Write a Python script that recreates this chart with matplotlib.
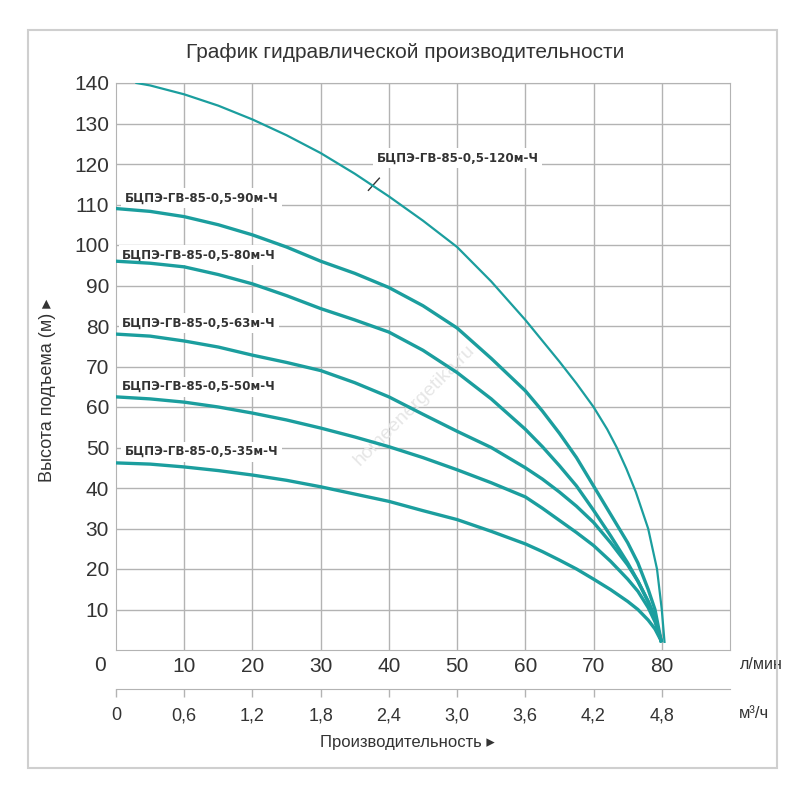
import matplotlib
matplotlib.use("Agg")
import matplotlib.pyplot as plt
from matplotlib.patches import Rectangle

plt.rcParams['font.family'] = ['Liberation Sans', 'DejaVu Sans']

# flow, l/min  ->  head, m
x_std = [0, 5, 10, 15, 20, 25, 30, 35, 40, 45, 50, 55, 60, 62.5, 65, 67.5, 70, 72.5, 75, 76.5, 78, 79, 79.9]
h35 = [46.2, 45.9, 45.2, 44.3, 43.2, 41.9, 40.3, 38.5, 36.7, 34.4, 32.2, 29.3, 26.2, 24.3, 22.2, 20.0, 17.5, 14.9, 12.0, 10.0, 7.4, 5.2, 2.3]
h50 = [62.5, 62.0, 61.2, 60.0, 58.5, 56.8, 54.8, 52.6, 50.2, 47.5, 44.5, 41.3, 37.8, 35.0, 32.0, 29.0, 25.8, 21.9, 17.5, 14.5, 10.5, 7.0, 2.3]
h63 = [78.0, 77.5, 76.3, 74.8, 72.8, 71.0, 69.0, 66.0, 62.5, 58.2, 54.0, 50.0, 45.0, 42.2, 39.0, 35.5, 31.5, 26.5, 21.0, 17.0, 12.0, 8.0, 2.3]
h80 = [96.0, 95.5, 94.6, 92.7, 90.4, 87.5, 84.3, 81.5, 78.5, 74.0, 68.5, 62.0, 54.5, 50.2, 45.5, 40.5, 34.5, 28.2, 21.5, 17.0, 12.0, 8.0, 2.3]
h90 = [109.0, 108.3, 107.0, 105.0, 102.5, 99.5, 96.0, 93.0, 89.5, 85.0, 79.5, 72.0, 64.0, 59.0, 53.5, 47.5, 40.5, 33.5, 26.5, 21.5, 15.0, 10.0, 2.3]
x120 = [3, 5, 10, 15, 20, 25, 30, 35, 40, 45, 50, 55, 60, 65, 67.5, 70, 72, 73.4, 74.8, 76.2, 78, 79.3, 80, 80.4]
h120 = [140, 139.4, 137.2, 134.4, 131, 127.1, 122.7, 117.6, 112, 106, 99.5, 91, 81.5, 71.2, 65.8, 60, 54.5, 50, 44.8, 39, 30, 20, 10, 2]

names = ['БЦПЭ-ГВ-85-0,5-35м-Ч', 'БЦПЭ-ГВ-85-0,5-50м-Ч', 'БЦПЭ-ГВ-85-0,5-63м-Ч',
         'БЦПЭ-ГВ-85-0,5-80м-Ч', 'БЦПЭ-ГВ-85-0,5-90м-Ч', 'БЦПЭ-ГВ-85-0,5-120м-Ч']
label_pos = [(1.3, 49), (0.9, 65), (0.9, 80.7), (0.9, 97.5), (1.3, 111.6), (38.2, 121.5)]

lmin_ticks = [10, 20, 30, 40, 50, 60, 70, 80]
m3h_ticks = [0, 0.6, 1.2, 1.8, 2.4, 3.0, 3.6, 4.2, 4.8]
m3h_labels = ['0', '0,6', '1,2', '1,8', '2,4', '3,0', '3,6', '4,2', '4,8']
head_ticks = list(range(10, 150, 10))

teal = '#1b9e9e'
grey = '#b3b3b3'
txt = '#333333'

fig = plt.figure(figsize=(8, 8), dpi=100)
fig.add_artist(Rectangle((28/800, 32/800), 749/800, 738/800, transform=fig.transFigure,
                         fill=False, edgecolor='#cfcfcf', lw=1.5))
ax = fig.add_axes([116/800, 150/800, 614/800, 567/800])

for h in [h35, h50, h63, h80, h90]:
    ax.plot(x_std, h, color=teal, lw=2.4, solid_joinstyle='round', zorder=3)
ax.plot(x120, h120, color=teal, lw=1.6, solid_joinstyle='round', zorder=3)

for name, (lx, ly) in zip(names, label_pos):
    ax.text(lx, ly, name, fontsize=8.6, fontweight='bold', family='DejaVu Sans',
            color=txt, va='center', ha='left', zorder=2,
            bbox=dict(facecolor='white', edgecolor='none', pad=2.5))
ax.plot([37.0, 38.6], [113.5, 116.5], color=txt, lw=1, zorder=2)

ax.set_xlim(0, 90)
ax.set_ylim(0, 140)
ax.set_xticks(lmin_ticks)
ax.set_yticks(head_ticks)
ax.grid(True, color=grey, lw=1, zorder=0)
ax.set_axisbelow(True)
for s in ax.spines.values():
    s.set_color(grey)
ax.tick_params(axis='both', length=0, labelsize=15, colors=txt)
ax.tick_params(axis='x', pad=5)
ax.tick_params(axis='y', pad=5)
ax.text(-2.4, -1.6, '0', fontsize=15, color=txt, ha='center', va='top')
ax.text(91.5, -3.6, 'л/мин', fontsize=11.5, color=txt, ha='left', va='center')

sec = ax.secondary_xaxis(-0.0688, functions=(lambda v: v * 0.06, lambda v: v / 0.06))
sec.set_xticks(m3h_ticks)
sec.set_xticklabels(m3h_labels)
sec.spines['bottom'].set_color(grey)
sec.tick_params(axis='x', direction='out', length=6, width=1, color=grey,
                labelsize=13, labelcolor=txt, pad=7)
ax.text(93.5, -15.7, 'м³/ч', fontsize=12, color=txt, ha='center', va='center')

fig.text(48/800, 1 - 390/800, 'Высота подъема (м) ▸', fontsize=13, color=txt,
         rotation=90, ha='center', va='center')
fig.text(407/800, 1 - 742/800, 'Производительность ▸', fontsize=12, color=txt,
         ha='center', va='center')
fig.text(405/800, 1 - 52/800, 'График гидравлической производительности', fontsize=15,
         color=txt, ha='center', va='center')

# faint watermark
ax.text(43.8, 60.5, 'homeenergetika.ru', fontsize=14, color='#e6e6e6', rotation=45,
        ha='center', va='center', zorder=1)

fig.savefig('out.png', dpi=100)
